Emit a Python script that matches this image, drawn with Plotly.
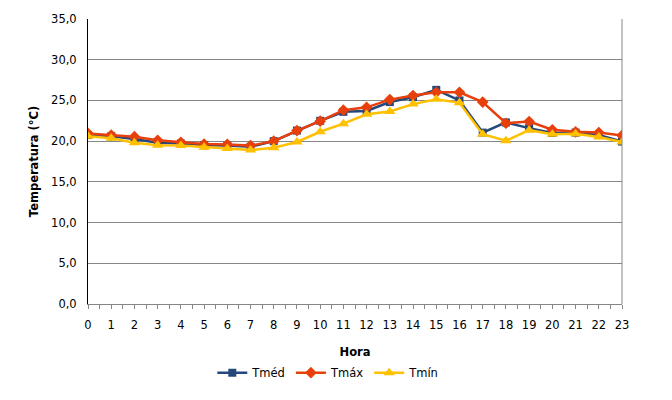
import plotly.graph_objects as go

# datos
horas = list(range(24))
t_med = [20.75, 20.6, 20.25, 19.8, 19.7, 19.5, 19.45, 19.3, 20.0, 21.3, 22.5, 23.6,
         23.7, 24.8, 25.4, 26.3, 25.0, 21.05, 22.3, 21.6, 21.0, 21.05, 20.75, 19.95]
t_max = [20.95, 20.75, 20.55, 20.1, 19.85, 19.65, 19.6, 19.45, 20.0, 21.3, 22.45, 23.8,
         24.15, 25.1, 25.6, 26.0, 26.0, 24.8, 22.2, 22.4, 21.4, 21.15, 21.05, 20.7]
t_min = [20.6, 20.35, 19.8, 19.5, 19.45, 19.25, 19.1, 18.9, 19.2, 19.9, 21.15, 22.15,
         23.3, 23.65, 24.55, 25.15, 24.7, 20.85, 20.05, 21.35, 20.85, 20.9, 20.5, 19.9]
y_ticks = [0, 5, 10, 15, 20, 25, 30, 35]
y_labels = ["0,0", "5,0", "10,0", "15,0", "20,0", "25,0", "30,0", "35,0"]

fuente = "Verdana, DejaVu Sans, sans-serif"

fig = go.Figure()

fig.add_trace(go.Scatter(x=horas, y=t_med, name="Tméd", mode="lines+markers",
                         line=dict(color="#24487C", width=2.5),
                         marker=dict(symbol="square", size=8, color="#24487C")))
fig.add_trace(go.Scatter(x=horas, y=t_max, name="Tmáx", mode="lines+markers",
                         line=dict(color="#E8400C", width=2.5),
                         marker=dict(symbol="diamond", size=9, color="#E8400C")))
fig.add_trace(go.Scatter(x=horas, y=t_min, name="Tmín", mode="lines+markers",
                         line=dict(color="#FFC000", width=2.5),
                         marker=dict(symbol="triangle-up", size=10, color="#FFC000")))

# la pagina tiene 8px de margen, se compensa aqui
fig.update_layout(
    width=672, height=400,
    margin=dict(l=80, r=58, t=11, b=104),
    paper_bgcolor="white", plot_bgcolor="white",
    font=dict(family=fuente, size=11, color="black"),
    showlegend=True,
    legend=dict(orientation="h", x=0.45, xanchor="center", xref="paper",
                y=-0.19, yanchor="top", font=dict(size=11.5),
                itemwidth=30, tracegroupgap=0),
)

fig.update_xaxes(
    range=[0, 23], tickmode="array", tickvals=horas, ticktext=[str(h) for h in horas],
    showgrid=False, zeroline=False, automargin=False,
    showline=True, linecolor="#868686", linewidth=1,
    ticks="outside", ticklen=4, tickcolor="#868686", ticklabelstandoff=6,
    minor=dict(dtick=0.5, tick0=0, ticks="outside", ticklen=4, tickcolor="#868686"),
    title=dict(text="<b>Hora</b>", font=dict(size=11.5), standoff=17),
    tickfont=dict(size=11.5),
)

fig.update_yaxes(
    range=[0, 35], tickmode="array", tickvals=y_ticks, ticktext=y_labels,
    showgrid=True, gridcolor="#868686", gridwidth=1, zeroline=False, automargin=False,
    showline=True, linecolor="black", linewidth=1,
    ticks="", ticklabelstandoff=8,
    title=dict(text="<b>Temperatura (°C)</b>", font=dict(size=11.5), standoff=10),
    tickfont=dict(size=11.5),
)

# borde derecho del area de trazado
fig.add_shape(type="line", xref="paper", yref="paper", x0=1, x1=1, y0=0, y1=1,
              line=dict(color="#868686", width=1))

fig.write_html("out.html")
